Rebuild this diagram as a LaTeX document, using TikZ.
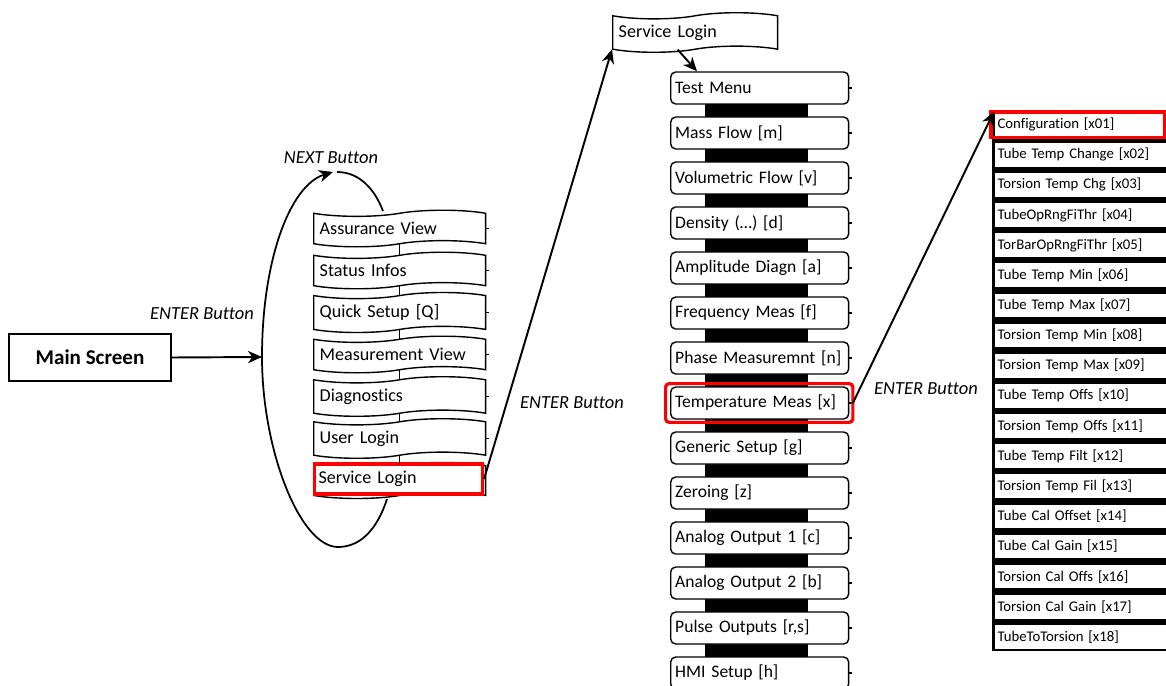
\documentclass[tikz,border=0pt]{standalone}
\usepackage{fontspec}
\setmainfont[Ligatures=NoCommon]{Carlito}
\usetikzlibrary{shapes.symbols,arrows.meta}

\begin{document}
\begin{tikzpicture}[x=0.02cm,y=-0.02cm,
    arr/.style={line width=1.1pt,-{Stealth[length=8pt,width=7pt,inset=2.5pt]}},
    lbl/.style={font=\fontsize{10.5}{12}\itshape},
    wavy/.style={tape, draw, fill=white, line width=0.8pt,
      tape bend top=in and out, tape bend bottom=in and out, tape bend height=3.5pt,
      text width=3.2cm, inner xsep=0.12cm, minimum height=0.72cm, align=left,
      anchor=west, font=\fontsize{10.3}{12}\selectfont},
    menubox/.style={draw, fill=white, line width=0.8pt, rounded corners=0.1cm,
      text width=3.38cm, inner xsep=0.09cm, minimum height=0.64cm, align=left,
      anchor=west, font=\fontsize{10}{12}\selectfont},
    subbox/.style={draw, fill=white, line width=0.6pt, text width=3.4cm,
      inner xsep=0.06cm, minimum height=0.48cm, align=left, anchor=west,
      font=\fontsize{8.4}{10}\selectfont},
    sel/.style={draw=red, line width=1.8pt}]
  \useasboundingbox (0,0) rectangle (1166,686);
  \clip (0,0) rectangle (1166,686);

  % main screen
  \node[draw, line width=0.8pt, minimum width=3.24cm, minimum height=0.94cm,
        font=\fontsize{12}{14}\bfseries] (main) at (90,357.5) {Main Screen};
  \coordinate (loopL) at (262,357);
  \draw[arr] (main.east) -- (loopL);
  \node[lbl] at (202,314) {ENTER Button};

  % main menu list
  \foreach \t [count=\i] in {Assurance View, Status Infos, Quick Setup [Q],
      Measurement View, Diagnostics, User Login} {
    \node[wavy] (l\i) at (313,186.5+42*\i) {\t};
    \draw[line width=0.6pt] (l\i.east) -- ++(3,0);
  }
  \node[wavy] (l7) at (313,480.5) {};
  \node[sel, fill=white, minimum width=3.36cm, minimum height=0.6cm,
        text width=3.2cm, inner xsep=0.08cm, align=left,
        font=\fontsize{10.3}{12}\selectfont] (sl) at (398.5,479) {Service Login};
  \foreach \i [evaluate=\i as \j using int(\i+1)] in {1,...,6}
    \draw[line width=0.6pt] (l\i.south) -- (l\j.north);

  % next button loop
  \draw[line width=1pt] (387,499) .. controls (377,530) and (360,547) .. (338,547)
    .. controls (300,547) and (262,450) .. (loopL);
  \draw[arr, line width=1pt] (loopL) .. controls (262,260) and (290,185) .. (333,172);
  \draw[line width=1pt] (337,172) .. controls (360,172) and (375,190) .. (383,211);
  \node[lbl] at (331,158) {NEXT Button};

  % service menu
  \node[wavy, text width=3.06cm, minimum height=0.74cm] (svc) at (612,32.5) {Service Login};
  \fill (705,95) rectangle (808,700);
  \foreach \t [count=\i] in {Test Menu, Mass Flow [m], Volumetric Flow [v],
      Density (…) [d], Amplitude Diagn [a], Frequency Meas [f],
      Phase Measuremnt [n], Temperature Meas [x], Generic Setup [g],
      Zeroing [z], Analog Output 1 [c], Analog Output 2 [b],
      {Pulse Outputs [r,s]}, HMI Setup [h]} {
    \node[menubox] (m\i) at (670,43+45*\i) {\t};
    \draw[line width=0.6pt] (m\i.east) -- ++(3,0);
  }
  \draw[sel, rounded corners=2pt] ([xshift=-2.5pt,yshift=1.5pt]m8.north west)
    rectangle ([xshift=2pt,yshift=-1.5pt]m8.south east);

  \draw[arr] (sl.east) -- (svc.south west);
  \draw[arr] ([xshift=-0.35cm]svc.south) -- ([xshift=0.54cm]m1.north west);

  % temperature sub menu
  \fill (992,111) rectangle (1170,651);
  \foreach \t [count=\i] in {Configuration [x01], Tube Temp Change [x02],
      Torsion Temp Chg [x03], TubeOpRngFiThr [x04], TorBarOpRngFiThr [x05],
      Tube Temp Min [x06], Tube Temp Max [x07], Torsion Temp Min [x08],
      Torsion Temp Max [x09], Tube Temp Offs [x10], Torsion Temp Offs [x11],
      Tube Temp Filt [x12], Torsion Temp Fil [x13], Tube Cal Offset [x14],
      Tube Cal Gain [x15], Torsion Cal Offs [x16], Torsion Cal Gain [x17],
      TubeToTorsion [x18]}
    \node[subbox] (r\i) at (994,94.35+30.15*\i) {\t};
  \draw[sel] (991,112) rectangle (1165,137.5);

  \draw[arr] ([xshift=2pt]m8.east) -- (r1.north west);
  \node[lbl] at (926,389) {ENTER Button};
  \node[lbl] at (572,403) {ENTER Button};
\end{tikzpicture}
\end{document}
